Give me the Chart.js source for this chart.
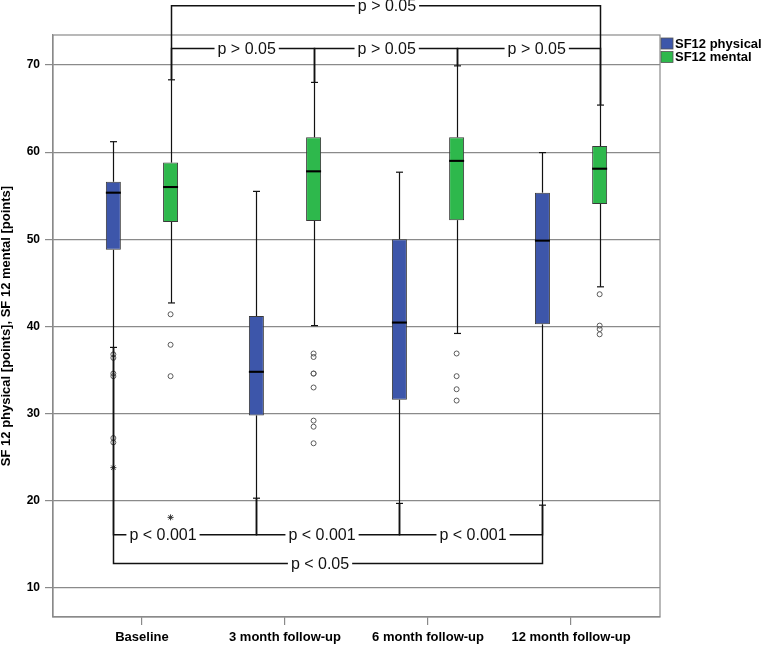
<!DOCTYPE html>
<html>
<head>
<meta charset="utf-8">
<script src="https://cdn.jsdelivr.net/npm/chart.js@4"></script>
<style>
  body { margin: 0; background: #fff; }
</style>
</head>
<body>
<canvas id="chart" width="761" height="645"></canvas>
<script>
// Categorías y nombres de series
const categories = ['Baseline', '3 month follow-up', '6 month follow-up', '12 month follow-up'];
const seriesNames = ['SF12 physical', 'SF12 mental'];
const yTicks = [10, 20, 30, 40, 50, 60, 70];
const yTitle = 'SF 12 physical [points], SF 12 mental [points]';

// SF12 physical (bigotes, cuartiles, mediana)
const physLow = [37.6, 20.3, 19.7, 19.5];
const physQ1 = [48.8, 29.8, 31.6, 40.25];
const physMed = [55.35, 34.8, 40.45, 49.85];
const physQ3 = [56.6, 41.2, 50.0, 55.35];
const physHigh = [61.2, 55.5, 57.7, 59.95];
const physOutliers = [[36.8, 36.4, 34.6, 34.3, 27.2, 26.7], [], [], []];
const physExtremes = [[23.8], [], [], []];

// SF12 mental
const mentLow = [42.7, 40.1, 39.2, 44.55];
const mentQ1 = [52.0, 52.1, 52.2, 54.05];
const mentMed = [56.0, 57.8, 59.0, 58.1];
const mentQ3 = [58.8, 61.7, 61.7, 60.7];
const mentHigh = [68.3, 68.0, 69.9, 65.4];
const mentOutliers = [[41.4, 37.9, 34.3], [36.9, 36.5, 34.6, 34.6, 33.0, 29.2, 28.5, 26.6], [36.9, 34.3, 32.8, 31.5], [43.7, 40.1, 39.7, 39.1]];
const mentExtremes = [[18.1], [], [], []];

// Comparaciones (corchetes con valor p)
const bracketPairs = [[0, 3], [0, 1], [1, 2], [2, 3], [0, 1], [1, 2], [2, 3], [0, 3]];
const bracketSeries = [1, 1, 1, 1, 0, 0, 0, 0];
const bracketLevels = [76.8, 71.9, 71.9, 71.9, 16.1, 16.1, 16.1, 12.8];
const bracketLabelPos = [1.713, 0.732, 1.711, 2.76, 0.147, 1.259, 2.315, 1.245];
const bracketTexts = ['p > 0.05', 'p > 0.05', 'p > 0.05', 'p > 0.05', 'p < 0.001', 'p < 0.001', 'p < 0.001', 'p < 0.05'];

const FONT = "'Liberation Sans', Arial, sans-serif";
const colors = ['#3d56aa', '#2eb84c'];
const offsets = [-0.2, 0.2];
const frameColor = '#8a8a8a';

const series = [
  { low: physLow, q1: physQ1, med: physMed, q3: physQ3, high: physHigh, out: physOutliers, ext: physExtremes },
  { low: mentLow, q1: mentQ1, med: mentMed, q3: mentQ3, high: mentHigh, out: mentOutliers, ext: mentExtremes }
];

// Construir datasets
const datasets = [];
series.forEach((s, si) => {
  datasets.push({
    type: 'bar',
    label: seriesNames[si],
    data: categories.map((c, i) => ({ x: i + offsets[si], y: [s.q1[i], s.q3[i]] })),
    backgroundColor: colors[si],
    borderColor: '#3a3a3a',
    borderWidth: 1,
    borderSkipped: false,
    grouped: false,
    maxBarThickness: 15,
    order: 3
  });
  datasets.push({
    type: 'bar',
    label: seriesNames[si] + ' median',
    data: categories.map((c, i) => ({ x: i + offsets[si], y: [s.med[i] - 0.12, s.med[i] + 0.12] })),
    backgroundColor: '#000',
    borderWidth: 0,
    grouped: false,
    maxBarThickness: 15,
    order: 0
  });
  datasets.push({
    type: 'scatter',
    label: seriesNames[si] + ' outliers',
    data: s.out.flatMap((vals, i) => vals.map(v => ({ x: i + offsets[si], y: v }))),
    pointStyle: 'circle',
    radius: 2.5,
    borderColor: '#5a5a5a',
    backgroundColor: 'rgba(255,255,255,0)',
    borderWidth: 1,
    order: 1
  });
  datasets.push({
    type: 'scatter',
    label: seriesNames[si] + ' extremes',
    data: s.ext.flatMap((vals, i) => vals.map(v => ({ x: i + offsets[si], y: v }))),
    pointStyle: 'star',
    radius: 3,
    borderColor: '#333',
    borderWidth: 1,
    order: 1
  });
});

// Bigotes, marco, corchetes y leyenda
const boxPlugin = {
  id: 'boxExtras',
  beforeDatasetsDraw(chart) {
    const { ctx, chartArea: a, scales: { x, y } } = chart;
    ctx.save();
    ctx.strokeStyle = frameColor;
    ctx.lineWidth = 1.2;
    ctx.strokeRect(a.left, a.top, a.right - a.left, a.bottom - a.top);
    ctx.strokeStyle = '#111';
    ctx.lineWidth = 1.2;
    series.forEach((s, si) => {
      categories.forEach((c, i) => {
        const px = Math.round(x.getPixelForValue(i + offsets[si])) + 0.5;
        const seg = (v1, v2) => {
          ctx.beginPath();
          ctx.moveTo(px, y.getPixelForValue(v1));
          ctx.lineTo(px, y.getPixelForValue(v2));
          ctx.stroke();
        };
        const cap = v => {
          const py = y.getPixelForValue(v);
          ctx.beginPath();
          ctx.moveTo(px - 3.5, py);
          ctx.lineTo(px + 3.5, py);
          ctx.stroke();
        };
        seg(s.low[i], s.q1[i]);
        seg(s.q3[i], s.high[i]);
        cap(s.low[i]);
        cap(s.high[i]);
      });
    });
    ctx.restore();
  },
  afterDraw(chart) {
    const { ctx, scales: { x, y } } = chart;
    ctx.save();
    ctx.strokeStyle = '#111';
    ctx.lineWidth = 1.5;
    ctx.font = '16px ' + FONT;
    ctx.fillStyle = '#111';
    ctx.textAlign = 'center';
    ctx.textBaseline = 'middle';
    bracketPairs.forEach(([c1, c2], b) => {
      const si = bracketSeries[b];
      const s = series[si];
      const up = bracketLevels[b] > s.high[c1];
      const x1 = Math.round(x.getPixelForValue(c1 + offsets[si])) + 0.5;
      const x2 = Math.round(x.getPixelForValue(c2 + offsets[si])) + 0.5;
      const py = y.getPixelForValue(bracketLevels[b]);
      const end1 = y.getPixelForValue(up ? s.high[c1] : s.low[c1]);
      const end2 = y.getPixelForValue(up ? s.high[c2] : s.low[c2]);
      const lx = x.getPixelForValue(bracketLabelPos[b]);
      const w = ctx.measureText(bracketTexts[b]).width;
      ctx.beginPath();
      ctx.moveTo(x1, end1);
      ctx.lineTo(x1, py);
      ctx.lineTo(lx - w / 2 - 3, py);
      ctx.moveTo(lx + w / 2 + 3, py);
      ctx.lineTo(x2, py);
      ctx.lineTo(x2, end2);
      ctx.stroke();
      ctx.fillText(bracketTexts[b], lx, py + 1);
    });

    // Leyenda
    ctx.font = 'bold 13px ' + FONT;
    ctx.textAlign = 'left';
    ctx.textBaseline = 'alphabetic';
    seriesNames.forEach((name, i) => {
      const ry = 38 + i * 13.5;
      ctx.fillStyle = colors[i];
      ctx.fillRect(661, ry, 12, 11);
      ctx.strokeStyle = '#555';
      ctx.lineWidth = 0.8;
      ctx.strokeRect(661, ry, 12, 11);
      ctx.fillStyle = '#000';
      ctx.fillText(name, 675, ry + 9.5);
    });
    ctx.restore();
  }
};

new Chart(document.getElementById('chart'), {
  type: 'bar',
  data: { datasets },
  options: {
    responsive: false,
    animation: false,
    layout: { padding: { top: 35, right: 101, left: 0, bottom: 0 } },
    plugins: { legend: { display: false }, tooltip: { enabled: false } },
    scales: {
      x: {
        type: 'linear',
        min: -0.622,
        max: 3.622,
        offset: false,
        afterBuildTicks: ax => { ax.ticks = categories.map((c, i) => ({ value: i })); },
        afterFit: ax => { ax.height = 28; },
        ticks: {
          callback: v => categories[v],
          font: { family: FONT, size: 13, weight: 'bold' },
          color: '#000',
          padding: 5,
          autoSkip: false,
          maxRotation: 0
        },
        grid: { drawOnChartArea: false, offset: false, tickLength: 8, color: frameColor, lineWidth: 1.2 },
        border: { color: frameColor, width: 1.2 }
      },
      y: {
        min: 6.67,
        max: 73.44,
        afterBuildTicks: ax => { ax.ticks = yTicks.map(v => ({ value: v })); },
        afterFit: ax => { ax.width = 53; },
        ticks: {
          font: { family: FONT, size: 12, weight: 'bold' },
          color: '#000',
          padding: 5
        },
        grid: { color: frameColor, lineWidth: 1.2, tickLength: 8 },
        border: { color: frameColor, width: 1.2 },
        title: {
          display: true,
          text: yTitle,
          color: '#000',
          font: { family: FONT, size: 13, weight: 'bold', lineHeight: 1 },
          padding: 0
        }
      }
    }
  },
  plugins: [boxPlugin]
});
</script>
</body>
</html>
